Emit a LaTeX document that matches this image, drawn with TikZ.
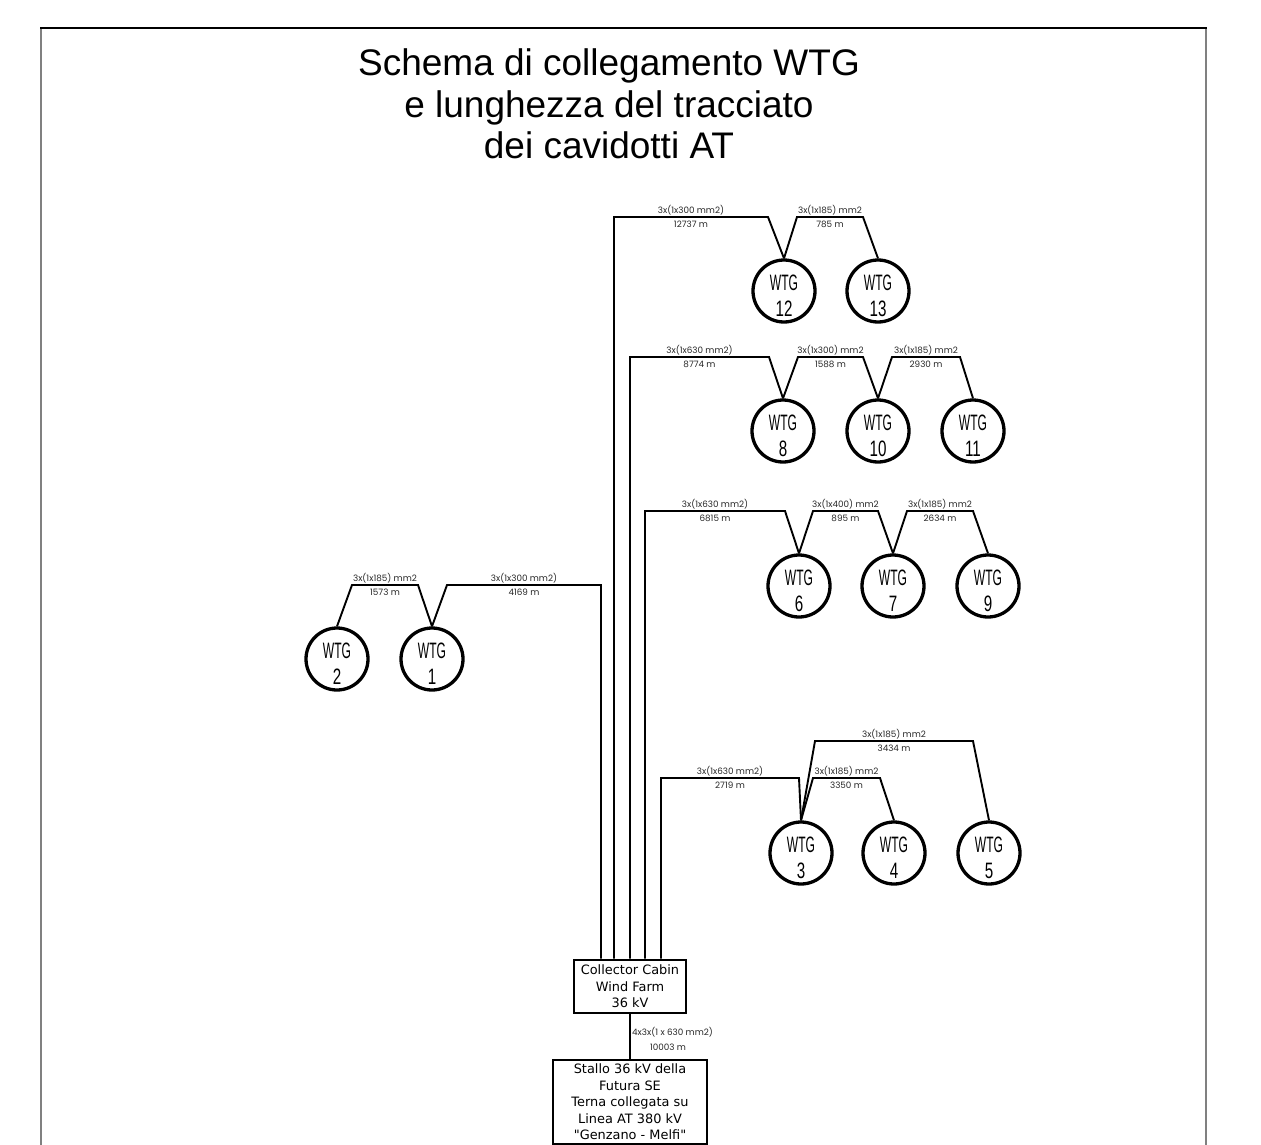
\documentclass[tikz,border=0pt]{standalone}
\usepackage{fontspec}
\setmainfont{Liberation Sans}
\newfontfamily\wtgfont[FakeStretch=0.54]{Liberation Sans}
\newfontfamily\numfont[FakeStretch=0.68]{Liberation Sans}
\newfontfamily\labfont{Poppins}
\newfontfamily\boxfont{DejaVu Sans}
\begin{document}
\begin{tikzpicture}[x=1pt,y=-1pt,
  wtg/.style={circle, draw, line width=3.3pt, minimum size=62pt, inner sep=0pt},
  wtgt/.style={inner sep=0pt, font=\wtgfont\fontsize{22.3}{24}\selectfont},
  wtgn/.style={inner sep=0pt, font=\numfont\fontsize{22.3}{24}\selectfont},
  cable/.style={line width=1.9pt, line join=miter},
  lab/.style={inner sep=0pt, text=black!85, font=\labfont\fontsize{8.8}{9}\selectfont},
  labup/.style={lab, midway, anchor=base, yshift=4pt},
  labdn/.style={lab, midway, anchor=base, yshift=-10.5pt},
  boxn/.style={draw, line width=2.6pt, inner sep=0pt, align=center,
    font=\boxfont\fontsize{12.9}{16.5}\selectfont}]
\useasboundingbox (0,0) rectangle (1261,1145);
% frame
\draw[line width=2pt, black!50] (41,28) -- (41,1146);
\draw[line width=2pt, black!50] (1206,28) -- (1206,1146);
\draw[line width=1.5pt] (40,28) -- (1207,28);
% title
\node[align=center, inner sep=0pt, font=\fontsize{37}{41.5}\selectfont] (title) at (609,104)
  {Schema di collegamento WTG\\e lunghezza del tracciato\\dei cavidotti AT};
% turbines
\newcommand{\wtgnode}[3]{%
  \node[wtg] (w#1) at (#2) {};
  \node[wtgt] (w#1t) at ([yshift=8pt]w#1.center) {WTG};
  \node[wtgn] (w#1n) at ([yshift=-17.5pt]w#1.center) {#3};}
\wtgnode{12}{784,291}{12}
\wtgnode{13}{878,291}{13}
\wtgnode{8}{783,431}{8}
\wtgnode{10}{878,431}{10}
\wtgnode{11}{973,431}{11}
\wtgnode{6}{799,586}{6}
\wtgnode{7}{893,586}{7}
\wtgnode{9}{988,586}{9}
\wtgnode{2}{337,659}{2}
\wtgnode{1}{432,659}{1}
\wtgnode{3}{801,853}{3}
\wtgnode{4}{894,853}{4}
\wtgnode{5}{989,853}{5}
% boxes
\node[boxn, minimum width=112pt, minimum height=53pt] (cab) at (630,986.5)
  {Collector Cabin\\Wind Farm\\36 kV};
\node[boxn, minimum width=154pt, minimum height=84pt] (st) at (630,1102)
  {Stallo 36 kV della\\Futura SE\\Terna collegata su\\Linea AT 380 kV\\"Genzano - Melfi"};
% bend points
\coordinate (k12) at (614,217);
\coordinate (k8) at (630,357);
\coordinate (k6) at (645,511);
\coordinate (k1) at (601,585);
\coordinate (k3) at (661,778);
% cluster 12-13
\draw[cable] (k12 |- cab.north) -- (k12) -- node[labup]{3x(1x300 mm2)} node[labdn]{12737 m} (768,217) -- (w12.north);
\draw[cable] (w12.north) -- (797,217) -- node[labup]{3x(1x185) mm2} node[labdn]{785 m} (863,217) -- (w13.north);
% cluster 8-10-11
\draw[cable] (k8 |- cab.north) -- (k8) -- node[labup]{3x(1x630 mm2)} node[labdn]{8774 m} (769,357) -- (w8.north);
\draw[cable] (w8.north) -- (798,357) -- node[labup]{3x(1x300) mm2} node[labdn]{1588 m} (863,357) -- (w10.north);
\draw[cable] (w10.north) -- (892,357) -- node[labup]{3x(1x185) mm2} node[labdn]{2930 m} (960,357) -- (w11.north);
% cluster 6-7-9
\draw[cable] (k6 |- cab.north) -- (k6) -- node[labup]{3x(1x630 mm2)} node[labdn]{6815 m} (785,511) -- (w6.north);
\draw[cable] (w6.north) -- (813,511) -- node[labup]{3x(1x400) mm2} node[labdn]{895 m} (878,511) -- (w7.north);
\draw[cable] (w7.north) -- (907,511) -- node[labup]{3x(1x185) mm2} node[labdn]{2634 m} (973,511) -- (w9.north);
% cluster 2-1
\draw[cable] (w2.north) -- (352,585) -- node[labup]{3x(1x185) mm2} node[labdn]{1573 m} (418,585) -- (w1.north);
\draw[cable] (w1.north) -- (447,585) -- node[labup]{3x(1x300 mm2)} node[labdn]{4169 m} (k1) -- (k1 |- cab.north);
% cluster 3-4-5
\draw[cable] (k3 |- cab.north) -- (k3) -- node[labup]{3x(1x630 mm2)} node[labdn]{2719 m} (799,778) -- (w3.north);
\draw[cable] (w3.north) -- (813,778) -- node[labup]{3x(1x185) mm2} node[labdn]{3350 m} (880,778) -- (w4.north);
\draw[cable] (w3.north) -- (815,741) -- node[labup]{3x(1x185) mm2} node[labdn]{3434 m} (973,741) -- (w5.north);
% cabin to station
\draw[cable] (cab.south) -- (st.north);
\node[lab, anchor=west] (l1) at (632,1032) {4x3x(1 x 630 mm2)};
\node[lab] (l2) at (668,1047) {10003 m};
\end{tikzpicture}
\end{document}
